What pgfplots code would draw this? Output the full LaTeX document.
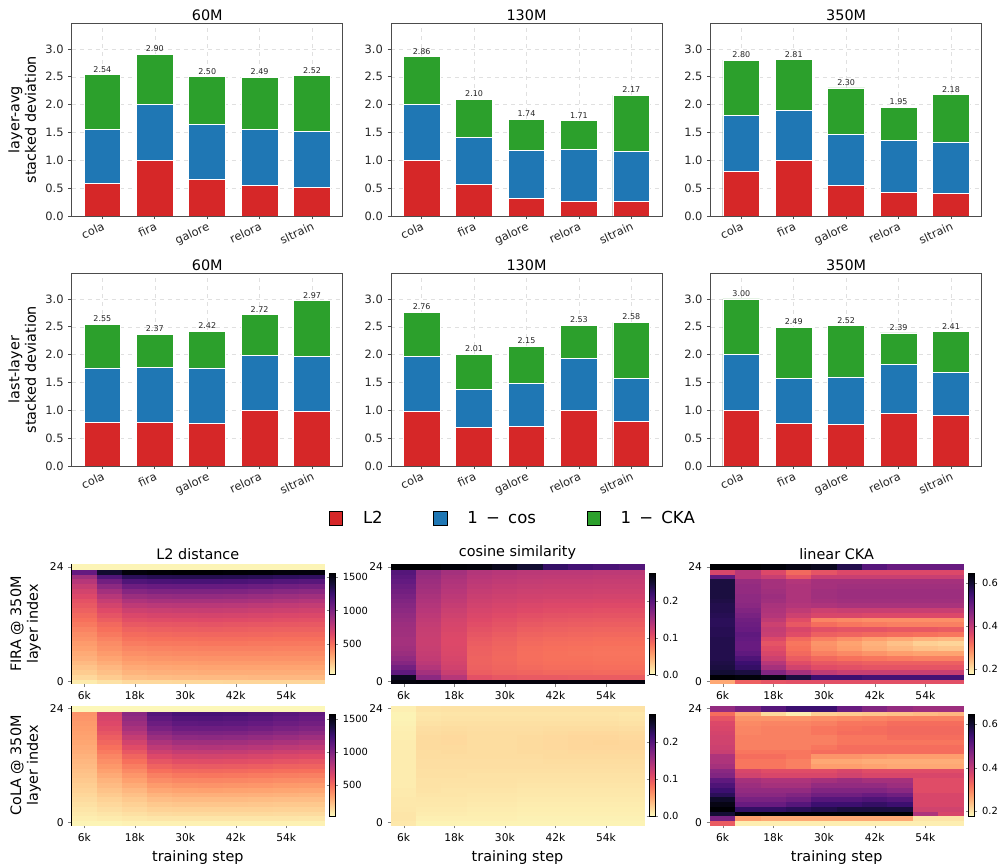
\documentclass[border=0pt]{standalone}
\usepackage{fontspec}
\setmainfont{DejaVu Sans}
\usepackage{pgfplots}
\pgfplotsset{compat=1.18}
\usepackage{pgfplotstable}

\definecolor{tabred}{RGB}{214,39,40}
\definecolor{tabblue}{RGB}{31,119,180}
\definecolor{tabgreen}{RGB}{44,160,44}

% one heatmap cell (width 1/10, height 1/25 of the heatmap box)
\pgfdeclareplotmark{cellmark}{%
  \pgfpathrectangle{\pgfqpoint{-9.5pt}{-1.79pt}}{\pgfqpoint{19pt}{3.58pt}}%
  \pgfusepathqfillstroke}

\pgfplotsset{
  /pgf/number format/assume math mode=true,
  /pgf/number format/1000 sep={},
  colormap={magmar}{rgb255=(252,253,191) rgb255=(254,206,146) rgb255=(254,159,109)
    rgb255=(247,112,92) rgb255=(222,73,104) rgb255=(183,55,121) rgb255=(140,41,129)
    rgb255=(100,26,128) rgb255=(59,15,112) rgb255=(20,14,54) rgb255=(0,0,4)},
  barax/.style={
    scale only axis, width=203.25pt, height=144.5pt, anchor=south west,
    xmin=-0.585, xmax=4.585, ymin=0, ymax=3.46,
    xtick={0,1,2,3,4}, xticklabels={cola,fira,galore,relora,sltrain},
    ytick={0,0.5,1,1.5,2,2.5,3},
    yticklabel style={/pgf/number format/.cd, fixed, fixed zerofill, precision=1},
    tick label style={font=\fontsize{8.6}{9.5}\selectfont, text=black!85},
    xticklabel style={rotate=25, anchor=north east, inner sep=1pt},
    tick align=outside, tick pos=left, major tick length=2.6pt,
    tick style={black!70, line width=0.6pt},
    grid=major, grid style={dashed, black!12, line width=0.4pt},
    axis line style={black!70, line width=0.7pt},
    title style={font=\fontsize{10.8}{12}\selectfont, yshift=-7.5pt},
    ylabel style={font=\fontsize{10.8}{12.5}\selectfont, align=center},
  },
  seg/.style={ybar, bar width=0.7, bar shift=0pt, draw=white, line width=0.6pt},
  totlab/.style={nodes near coords,
    nodes near coords style={font=\fontsize{6}{7}\selectfont, text=black!85, inner sep=1.5pt,
      /pgf/number format/fixed, /pgf/number format/fixed zerofill, /pgf/number format/precision=2}},
  hmax/.style={
    scale only axis, anchor=south west, enlargelimits=false, axis on top,
    xmin=3, xmax=63, ymin=-0.5, ymax=24.5,
    xtick={6,18,30,42,54}, xticklabels={6k,18k,30k,42k,54k},
    ytick={0,24},
    tick label style={font=\fontsize{8}{9}\selectfont},
    tick align=outside, tick pos=left, major tick length=2.6pt,
    axis line style={black, line width=0.6pt},
    title style={font=\fontsize{10.8}{12}\selectfont, yshift=-6pt},
    ylabel style={font=\fontsize{10.8}{12.5}\selectfont, align=center},
    xlabel style={font=\fontsize{10.8}{12}\selectfont},
    colormap name=magmar,
    colorbar,
    colorbar style={scale only axis, width=4.5pt, height=76.3pt,
      at={(parent axis.east)}, anchor=west, xshift=-4.5pt,
      tick label style={font=\fontsize{7.4}{8}\selectfont},
      major tick length=2pt, tick align=outside, scaled ticks=false,
      axis line style={black, line width=0.5pt}},
  },
  hmplot/.style={scatter, only marks, mark=cellmark, point meta=explicit,
    scatter/use mapped color={draw=mapped color, fill=mapped color},
    mark options={line width=0.25pt}, skip coords between index={250}{400}},
  % cell k of the list: row = floor(k/10), column = k - 10*row (the +0.5 keeps floor exact)
  table/hmxy/.style={x index=0, y index=0, meta index=0,
    x expr={6*(\coordindex-10*floor((\coordindex+0.5)/10))+6},
    y expr={floor((\coordindex+0.5)/10)}},
}

% heatmap data: one value per cell, rows = layer 0..24 (bottom to top), 10 steps per row (6k..60k)
\pgfplotstableread[row sep=\\, header=false]{%
90\\120\\150\\150\\155\\155\\160\\160\\160\\160\\
150\\190\\230\\240\\245\\250\\250\\255\\255\\255\\
190\\230\\270\\280\\285\\290\\290\\290\\290\\290\\
220\\260\\300\\310\\315\\320\\320\\320\\320\\320\\
250\\290\\330\\340\\345\\350\\350\\350\\350\\350\\
280\\320\\360\\370\\375\\380\\380\\380\\380\\380\\
300\\350\\390\\400\\405\\410\\410\\410\\405\\405\\
330\\380\\420\\430\\435\\440\\440\\440\\435\\435\\
350\\400\\450\\460\\465\\470\\470\\465\\465\\460\\
380\\430\\480\\490\\495\\500\\500\\495\\490\\490\\
400\\460\\510\\520\\525\\530\\530\\525\\520\\520\\
430\\490\\540\\555\\560\\565\\560\\555\\550\\550\\
460\\520\\580\\590\\595\\600\\595\\590\\585\\580\\
490\\560\\620\\630\\635\\640\\635\\630\\620\\615\\
520\\600\\660\\675\\680\\685\\680\\670\\660\\655\\
550\\640\\710\\725\\730\\735\\730\\720\\710\\700\\
580\\690\\770\\785\\790\\790\\785\\775\\760\\750\\
610\\740\\830\\850\\855\\855\\850\\840\\825\\810\\
650\\800\\900\\920\\925\\925\\920\\905\\890\\875\\
690\\870\\980\\1000\\1005\\1005\\1000\\985\\965\\950\\
740\\950\\1070\\1090\\1095\\1095\\1090\\1075\\1055\\1040\\
800\\1050\\1180\\1200\\1205\\1205\\1200\\1185\\1165\\1150\\
880\\1180\\1320\\1340\\1345\\1345\\1340\\1330\\1310\\1300\\
1100\\1430\\1540\\1560\\1565\\1565\\1560\\1555\\1545\\1540\\
60\\60\\60\\60\\60\\60\\60\\60\\60\\60\\}\tabFiraL

\pgfplotstableread[row sep=\\, header=false]{%
.270\\.272\\.272\\.270\\.270\\.270\\.270\\.270\\.270\\.270\\
.260\\.165\\.138\\.105\\.100\\.098\\.098\\.097\\.097\\.097\\
.195\\.150\\.125\\.095\\.092\\.090\\.088\\.088\\.087\\.087\\
.182\\.140\\.120\\.093\\.090\\.087\\.085\\.085\\.084\\.084\\
.170\\.134\\.117\\.092\\.089\\.085\\.083\\.083\\.082\\.082\\
.162\\.130\\.115\\.092\\.088\\.084\\.082\\.082\\.081\\.081\\
.156\\.128\\.113\\.093\\.089\\.084\\.082\\.081\\.080\\.080\\
.152\\.126\\.112\\.094\\.090\\.085\\.083\\.082\\.081\\.081\\
.150\\.125\\.111\\.096\\.092\\.087\\.085\\.084\\.083\\.083\\
.150\\.125\\.111\\.098\\.094\\.089\\.087\\.086\\.085\\.085\\
.152\\.126\\.112\\.101\\.097\\.092\\.090\\.089\\.088\\.088\\
.153\\.127\\.114\\.104\\.100\\.095\\.093\\.092\\.091\\.091\\
.155\\.129\\.116\\.107\\.103\\.099\\.097\\.096\\.095\\.095\\
.158\\.131\\.118\\.110\\.106\\.102\\.100\\.099\\.098\\.098\\
.161\\.134\\.121\\.113\\.109\\.106\\.104\\.103\\.102\\.102\\
.165\\.137\\.124\\.116\\.113\\.110\\.108\\.107\\.106\\.106\\
.169\\.140\\.128\\.119\\.116\\.113\\.111\\.111\\.110\\.110\\
.173\\.143\\.131\\.122\\.119\\.117\\.115\\.115\\.114\\.114\\
.178\\.146\\.134\\.125\\.122\\.120\\.119\\.119\\.118\\.118\\
.183\\.149\\.137\\.128\\.125\\.123\\.122\\.122\\.121\\.121\\
.188\\.152\\.140\\.131\\.128\\.126\\.125\\.125\\.124\\.124\\
.193\\.155\\.143\\.134\\.131\\.129\\.128\\.128\\.127\\.127\\
.198\\.158\\.146\\.137\\.134\\.132\\.131\\.131\\.130\\.130\\
.203\\.162\\.150\\.140\\.137\\.135\\.134\\.134\\.133\\.133\\
.275\\.275\\.272\\.270\\.262\\.250\\.225\\.215\\.210\\.205\\}\tabFiraC

\pgfplotstableread[row sep=\\, header=false]{%
.26\\.335\\.35\\.355\\.355\\.355\\.355\\.355\\.355\\.355\\
.645\\.64\\.63\\.59\\.55\\.55\\.54\\.54\\.54\\.54\\
.60\\.59\\.47\\.43\\.40\\.39\\.39\\.39\\.39\\.39\\
.59\\.56\\.43\\.38\\.36\\.355\\.35\\.35\\.35\\.35\\
.585\\.55\\.41\\.36\\.345\\.34\\.335\\.335\\.335\\.335\\
.58\\.53\\.385\\.34\\.325\\.315\\.31\\.305\\.30\\.30\\
.58\\.51\\.37\\.325\\.30\\.29\\.28\\.27\\.265\\.265\\
.58\\.50\\.36\\.315\\.285\\.27\\.255\\.245\\.235\\.23\\
.58\\.50\\.35\\.31\\.28\\.265\\.25\\.235\\.22\\.215\\
.58\\.505\\.365\\.325\\.30\\.285\\.27\\.26\\.25\\.245\\
.575\\.51\\.39\\.36\\.335\\.33\\.325\\.32\\.315\\.31\\
.575\\.50\\.395\\.37\\.355\\.35\\.35\\.345\\.345\\.34\\
.57\\.495\\.385\\.345\\.32\\.31\\.305\\.30\\.30\\.30\\
.57\\.49\\.40\\.36\\.295\\.29\\.285\\.285\\.285\\.285\\
.575\\.48\\.415\\.385\\.37\\.37\\.365\\.365\\.365\\.365\\
.58\\.47\\.42\\.40\\.385\\.39\\.39\\.39\\.39\\.39\\
.58\\.46\\.425\\.415\\.42\\.425\\.425\\.425\\.425\\.425\\
.585\\.455\\.435\\.42\\.43\\.435\\.435\\.435\\.435\\.435\\
.59\\.455\\.44\\.42\\.435\\.44\\.44\\.44\\.44\\.44\\
.59\\.45\\.435\\.42\\.435\\.44\\.44\\.44\\.44\\.44\\
.59\\.45\\.43\\.42\\.43\\.435\\.435\\.435\\.435\\.435\\
.59\\.445\\.43\\.415\\.43\\.43\\.43\\.43\\.43\\.43\\
.51\\.41\\.39\\.35\\.39\\.39\\.39\\.39\\.39\\.39\\
.372\\.41\\.365\\.325\\.35\\.365\\.365\\.365\\.365\\.365\\
.645\\.645\\.64\\.63\\.62\\.58\\.52\\.50\\.50\\.50\\}\tabFiraK

\pgfplotstableread[row sep=\\, header=false]{%
60\\60\\70\\70\\70\\70\\70\\70\\70\\70\\
80\\90\\100\\110\\110\\110\\110\\110\\110\\105\\
95\\110\\125\\140\\145\\145\\145\\145\\140\\140\\
110\\130\\150\\170\\175\\175\\175\\175\\170\\170\\
125\\150\\175\\200\\210\\210\\210\\205\\200\\200\\
140\\170\\200\\235\\245\\245\\245\\240\\235\\235\\
155\\195\\230\\270\\285\\285\\285\\280\\275\\270\\
170\\220\\260\\310\\325\\330\\325\\320\\315\\310\\
185\\245\\295\\350\\370\\375\\370\\365\\355\\350\\
200\\270\\330\\395\\415\\420\\415\\410\\400\\395\\
215\\300\\365\\440\\465\\470\\465\\455\\445\\440\\
230\\330\\405\\490\\515\\520\\515\\505\\495\\490\\
245\\360\\445\\540\\570\\575\\570\\560\\545\\540\\
260\\390\\490\\595\\625\\630\\625\\615\\600\\590\\
275\\420\\535\\650\\685\\690\\685\\670\\655\\645\\
290\\455\\585\\710\\745\\750\\745\\730\\710\\700\\
300\\490\\635\\770\\810\\815\\810\\795\\775\\760\\
315\\525\\690\\835\\875\\880\\875\\860\\840\\820\\
325\\560\\745\\900\\945\\950\\945\\925\\905\\885\\
335\\595\\800\\960\\1010\\1015\\1010\\990\\965\\945\\
345\\625\\850\\1020\\1070\\1075\\1070\\1050\\1025\\1000\\
355\\650\\895\\1075\\1125\\1130\\1125\\1100\\1075\\1050\\
365\\670\\930\\1120\\1170\\1175\\1165\\1145\\1115\\1090\\
375\\690\\960\\1160\\1210\\1215\\1205\\1180\\1150\\1120\\
50\\50\\50\\50\\50\\50\\50\\50\\50\\50\\}\tabColaL

\pgfplotstableread[row sep=\\, header=false]{%
.012\\.006\\.006\\.006\\.006\\.006\\.006\\.006\\.006\\.006\\
.014\\.008\\.008\\.008\\.008\\.007\\.007\\.007\\.007\\.007\\
.014\\.010\\.010\\.009\\.009\\.008\\.008\\.008\\.008\\.008\\
.013\\.011\\.011\\.010\\.010\\.009\\.009\\.009\\.009\\.009\\
.012\\.012\\.012\\.011\\.011\\.010\\.010\\.010\\.010\\.010\\
.012\\.013\\.013\\.012\\.012\\.011\\.011\\.011\\.011\\.011\\
.011\\.014\\.014\\.013\\.013\\.012\\.012\\.012\\.012\\.012\\
.011\\.015\\.014\\.014\\.014\\.013\\.013\\.013\\.013\\.013\\
.010\\.016\\.015\\.015\\.015\\.014\\.014\\.014\\.014\\.014\\
.010\\.016\\.016\\.016\\.016\\.015\\.015\\.015\\.015\\.015\\
.010\\.017\\.017\\.016\\.016\\.016\\.016\\.016\\.016\\.016\\
.010\\.017\\.017\\.017\\.017\\.017\\.017\\.017\\.017\\.017\\
.010\\.018\\.018\\.018\\.018\\.018\\.018\\.018\\.018\\.018\\
.010\\.018\\.018\\.018\\.018\\.018\\.019\\.019\\.019\\.019\\
.010\\.019\\.019\\.019\\.019\\.019\\.020\\.020\\.020\\.020\\
.010\\.019\\.020\\.019\\.019\\.020\\.020\\.021\\.021\\.021\\
.010\\.020\\.020\\.019\\.019\\.020\\.021\\.022\\.022\\.022\\
.010\\.020\\.021\\.019\\.019\\.020\\.021\\.022\\.023\\.022\\
.009\\.020\\.021\\.019\\.019\\.020\\.021\\.022\\.022\\.021\\
.009\\.019\\.020\\.019\\.019\\.019\\.020\\.021\\.021\\.020\\
.008\\.018\\.019\\.018\\.018\\.018\\.019\\.019\\.019\\.018\\
.007\\.016\\.017\\.017\\.017\\.017\\.017\\.017\\.017\\.016\\
.006\\.014\\.015\\.015\\.015\\.015\\.015\\.015\\.015\\.014\\
.006\\.013\\.014\\.014\\.014\\.014\\.014\\.014\\.014\\.013\\
.008\\.015\\.016\\.016\\.016\\.016\\.016\\.016\\.016\\.016\\}\tabColaC

\pgfplotstableread[row sep=\\, header=false]{%
.34\\.19\\.19\\.19\\.19\\.19\\.19\\.19\\.19\\.19\\
.48\\.27\\.26\\.26\\.26\\.26\\.26\\.26\\.20\\.20\\
.60\\.645\\.645\\.645\\.645\\.645\\.645\\.645\\.42\\.37\\
.645\\.56\\.56\\.57\\.58\\.59\\.59\\.59\\.38\\.38\\
.63\\.50\\.50\\.52\\.55\\.55\\.56\\.55\\.37\\.37\\
.61\\.48\\.48\\.49\\.52\\.52\\.53\\.52\\.37\\.37\\
.57\\.46\\.46\\.47\\.49\\.49\\.50\\.49\\.37\\.37\\
.55\\.45\\.45\\.45\\.47\\.47\\.47\\.46\\.36\\.36\\
.53\\.44\\.43\\.43\\.45\\.45\\.45\\.44\\.36\\.36\\
.51\\.43\\.42\\.42\\.43\\.44\\.43\\.43\\.36\\.36\\
.47\\.38\\.37\\.37\\.37\\.38\\.37\\.37\\.37\\.37\\
.46\\.37\\.36\\.36\\.36\\.37\\.36\\.36\\.36\\.36\\
.43\\.31\\.31\\.30\\.27\\.27\\.265\\.26\\.26\\.26\\
.42\\.31\\.31\\.30\\.26\\.26\\.255\\.255\\.255\\.255\\
.42\\.32\\.32\\.31\\.28\\.28\\.275\\.27\\.27\\.27\\
.39\\.31\\.31\\.31\\.32\\.32\\.32\\.32\\.32\\.32\\
.385\\.30\\.30\\.30\\.31\\.32\\.32\\.32\\.32\\.32\\
.38\\.30\\.30\\.30\\.30\\.31\\.31\\.31\\.31\\.31\\
.38\\.30\\.30\\.30\\.30\\.31\\.31\\.32\\.32\\.32\\
.375\\.295\\.30\\.30\\.31\\.32\\.32\\.325\\.325\\.325\\
.37\\.295\\.30\\.30\\.31\\.315\\.32\\.325\\.325\\.325\\
.365\\.29\\.295\\.295\\.30\\.31\\.31\\.32\\.32\\.32\\
.35\\.28\\.28\\.28\\.285\\.29\\.295\\.30\\.30\\.30\\
.32\\.26\\.21\\.19\\.22\\.225\\.23\\.235\\.24\\.245\\
.45\\.48\\.52\\.55\\.55\\.50\\.47\\.45\\.44\\.44\\}\tabColaK

\begin{document}
\begin{tikzpicture}
\path[use as bounding box] (0,0) rectangle (750pt,648.75pt);

% ---------- row 1: layer-avg ----------
\begin{axis}[barax, at={(53.8pt,486.75pt)}, title={60M}, ylabel={layer-avg\\stacked deviation}]
\addplot[seg, fill=tabgreen, totlab] coordinates {(0,2.54) (1,2.90) (2,2.50) (3,2.49) (4,2.52)};
\addplot[seg, fill=tabblue] coordinates {(0,1.56) (1,2.00) (2,1.65) (3,1.55) (4,1.52)};
\addplot[seg, fill=tabred] coordinates {(0,0.59) (1,1.00) (2,0.65) (3,0.55) (4,0.52)};
\end{axis}
\begin{axis}[barax, at={(293.25pt,486.75pt)}, title={130M}]
\addplot[seg, fill=tabgreen, totlab] coordinates {(0,2.86) (1,2.10) (2,1.74) (3,1.71) (4,2.17)};
\addplot[seg, fill=tabblue] coordinates {(0,2.00) (1,1.41) (2,1.17) (3,1.19) (4,1.16)};
\addplot[seg, fill=tabred] coordinates {(0,1.00) (1,0.56) (2,0.32) (3,0.26) (4,0.26)};
\end{axis}
\begin{axis}[barax, at={(533pt,486.75pt)}, title={350M}]
\addplot[seg, fill=tabgreen, totlab] coordinates {(0,2.80) (1,2.81) (2,2.30) (3,1.95) (4,2.18)};
\addplot[seg, fill=tabblue] coordinates {(0,1.80) (1,1.90) (2,1.47) (3,1.35) (4,1.33)};
\addplot[seg, fill=tabred] coordinates {(0,0.80) (1,1.00) (2,0.55) (3,0.42) (4,0.41)};
\end{axis}

% ---------- row 2: last-layer ----------
\begin{axis}[barax, at={(53.8pt,299.25pt)}, title={60M}, ylabel={last-layer\\stacked deviation}]
\addplot[seg, fill=tabgreen, totlab] coordinates {(0,2.55) (1,2.37) (2,2.42) (3,2.72) (4,2.97)};
\addplot[seg, fill=tabblue] coordinates {(0,1.76) (1,1.77) (2,1.76) (3,1.99) (4,1.97)};
\addplot[seg, fill=tabred] coordinates {(0,0.78) (1,0.78) (2,0.76) (3,1.00) (4,0.98)};
\end{axis}
\begin{axis}[barax, at={(293.25pt,299.25pt)}, title={130M}]
\addplot[seg, fill=tabgreen, totlab] coordinates {(0,2.76) (1,2.01) (2,2.15) (3,2.53) (4,2.58)};
\addplot[seg, fill=tabblue] coordinates {(0,1.97) (1,1.37) (2,1.49) (3,1.93) (4,1.58)};
\addplot[seg, fill=tabred] coordinates {(0,0.98) (1,0.70) (2,0.71) (3,1.00) (4,0.80)};
\end{axis}
\begin{axis}[barax, at={(533pt,299.25pt)}, title={350M}]
\addplot[seg, fill=tabgreen, totlab] coordinates {(0,3.00) (1,2.49) (2,2.52) (3,2.39) (4,2.41)};
\addplot[seg, fill=tabblue] coordinates {(0,2.00) (1,1.57) (2,1.60) (3,1.83) (4,1.68)};
\addplot[seg, fill=tabred] coordinates {(0,1.00) (1,0.77) (2,0.74) (3,0.94) (4,0.90)};
\end{axis}

% ---------- legend ----------
\begin{axis}[hide axis, scale only axis, width=10pt, height=10pt, at={(384pt,260pt)}, anchor=center,
  xmin=0, xmax=1, ymin=0, ymax=1, legend columns=3,
  legend style={at={(0.5,0.5)}, anchor=center, draw=none, fill=none,
    font=\fontsize{12.4}{14}\selectfont, nodes={inner sep=0pt},
    /tikz/every odd column/.append style={column sep=15pt},
    /tikz/every even column/.append style={column sep=38pt}},
  legend image code/.code={\fill[#1] (0pt,-5pt) rectangle (10pt,5pt);}]
\addlegendimage{fill=tabred}\addlegendentry{L2}
\addlegendimage{fill=tabblue}\addlegendentry{1\hspace{0.5em}−\hspace{0.5em}cos}
\addlegendimage{fill=tabgreen}\addlegendentry{1\hspace{0.5em}−\hspace{0.5em}CKA}
\end{axis}

% ---------- heatmaps, FIRA ----------
\begin{axis}[hmax, at={(53.8pt,136.1pt)}, width=189.2pt, height=89.4pt, title={L2 distance},
  ylabel={FIRA @ 350M\\layer index}, point meta min=30, point meta max=1565,
  colorbar style={ytick={500,1000,1500}}]
\addplot[hmplot] table[hmxy] {\tabFiraL};
\end{axis}
\begin{axis}[hmax, at={(293.25pt,136.1pt)}, width=189.75pt, height=89.4pt, title={cosine similarity},
  point meta min=0, point meta max=0.275,
  colorbar style={ytick={0,0.1,0.2}, yticklabel style={/pgf/number format/.cd, fixed, fixed zerofill, precision=1}}]
\addplot[hmplot] table[hmxy] {\tabFiraC};
\end{axis}
\begin{axis}[hmax, at={(532.5pt,136.1pt)}, width=190pt, height=89.4pt, title={linear CKA},
  point meta min=0.175, point meta max=0.645,
  colorbar style={ytick={0.2,0.4,0.6}, yticklabel style={/pgf/number format/.cd, fixed, fixed zerofill, precision=1}}]
\addplot[hmplot] table[hmxy] {\tabFiraK};
\end{axis}

% ---------- heatmaps, CoLA ----------
\begin{axis}[hmax, at={(53.8pt,30pt)}, width=189.2pt, height=89.25pt, xlabel={training step},
  ylabel={CoLA @ 350M\\layer index}, point meta min=30, point meta max=1565,
  colorbar style={ytick={500,1000,1500}}]
\addplot[hmplot] table[hmxy] {\tabColaL};
\end{axis}
\begin{axis}[hmax, at={(293.25pt,30pt)}, width=189.75pt, height=89.25pt, xlabel={training step},
  point meta min=0, point meta max=0.275,
  colorbar style={ytick={0,0.1,0.2}, yticklabel style={/pgf/number format/.cd, fixed, fixed zerofill, precision=1}}]
\addplot[hmplot] table[hmxy] {\tabColaC};
\end{axis}
\begin{axis}[hmax, at={(532.5pt,30pt)}, width=190pt, height=89.25pt, xlabel={training step},
  point meta min=0.175, point meta max=0.645,
  colorbar style={ytick={0.2,0.4,0.6}, yticklabel style={/pgf/number format/.cd, fixed, fixed zerofill, precision=1}}]
\addplot[hmplot] table[hmxy] {\tabColaK};
\end{axis}
\end{tikzpicture}
\end{document}
